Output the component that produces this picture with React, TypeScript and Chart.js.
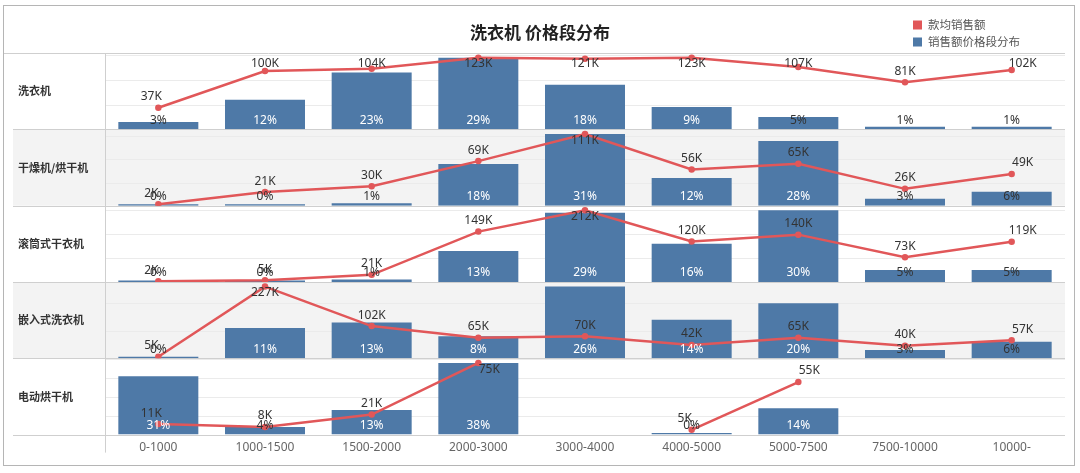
import React, { useEffect, useRef } from 'react';
import { Chart, registerables } from 'chart.js';

Chart.register(...registerables);

const titleText = '洗衣机 价格段分布';
const legendLabels = ['款均销售额', '销售额价格段分布'];
const categories = ['0-1000', '1000-1500', '1500-2000', '2000-3000', '3000-4000', '4000-5000', '5000-7500', '7500-10000', '10000-'];
const rowLabels = ['洗衣机', '干燥机/烘干机', '滚筒式干衣机', '嵌入式洗衣机', '电动烘干机'];

// 款均销售额 (K)
const washerAvg = [37, 100, 104, 123, 121, 123, 107, 81, 102];
const dryerAvg = [2, 21, 30, 69, 111, 56, 65, 26, 49];
const drumDryerAvg = [2, 5, 21, 149, 212, 120, 140, 73, 119];
const builtInAvg = [5, 227, 102, 65, 70, 42, 65, 40, 57];
const electricDryerAvg = [11, 8, 21, 75, null, 5, 55, null, null];

// 销售额价格段分布 (%)
const washerShare = [3, 12, 23, 29, 18, 9, 5, 1, 1];
const dryerShare = [0, 0, 1, 18, 31, 12, 28, 3, 6];
const drumDryerShare = [0, 0, 1, 13, 29, 16, 30, 5, 5];
const builtInShare = [0, 11, 13, 8, 26, 14, 20, 3, 6];
const electricDryerShare = [31, 4, 13, 38, null, 0, 14, null, null];

const avgRows = [washerAvg, dryerAvg, drumDryerAvg, builtInAvg, electricDryerAvg];
const shareRows = [washerShare, dryerShare, drumDryerShare, builtInShare, electricDryerShare];

const RED = '#e15759';
const BLUE = '#4e79a7';
const SANS = '"Noto Sans", "Noto Sans CJK SC", sans-serif';
const CJK = '"Noto Sans CJK SC", sans-serif';

const maxOf = (arr: (number | null)[]) => Math.max(...(arr.filter((v) => v !== null) as number[]));

const decorPlugin = {
  id: 'decor',
  beforeDatasetsDraw(chart: any) {
    const ctx = chart.ctx;
    const area = chart.chartArea;
    ctx.save();
    rowLabels.forEach((_, i) => {
      const s = chart.scales['b' + i];
      if (i % 2 === 1) {
        ctx.fillStyle = '#f3f3f3';
        ctx.fillRect(13, s.top, area.right - 13, s.bottom - s.top);
      }
      ctx.strokeStyle = '#ebebeb';
      ctx.lineWidth = 1;
      for (let v = 10; v < s.max; v += 10) {
        const y = Math.round(s.getPixelForValue(v)) + 0.5;
        ctx.beginPath();
        ctx.moveTo(area.left, y);
        ctx.lineTo(area.right, y);
        ctx.stroke();
      }
    });
    ctx.strokeStyle = '#cfcfcf';
    ctx.lineWidth = 1;
    const top = Math.round(area.top) + 0.5;
    ctx.beginPath();
    ctx.moveTo(3, top);
    ctx.lineTo(area.right, top);
    ctx.stroke();
    rowLabels.forEach((_, i) => {
      const s = chart.scales['b' + i];
      const y = Math.round(s.bottom) + 0.5;
      ctx.beginPath();
      ctx.moveTo(13, y);
      ctx.lineTo(area.right, y);
      ctx.stroke();
    });
    const vx = Math.round(area.left) + 0.5;
    ctx.beginPath();
    ctx.moveTo(vx, area.top);
    ctx.lineTo(vx, area.bottom + 18);
    ctx.stroke();
    ctx.restore();
  },
  afterDatasetsDraw(chart: any) {
    const ctx = chart.ctx;
    ctx.save();
    ctx.textAlign = 'center';
    ctx.textBaseline = 'middle';
    ctx.font = '12px ' + SANS;
    rowLabels.forEach((_, i) => {
      const bs = chart.scales['b' + i];
      const barMeta = chart.getDatasetMeta(rowLabels.length + i);
      const shares = shareRows[i];
      barMeta.data.forEach((el: any, j: number) => {
        const v = shares[j];
        if (v === null) return;
        const h = Math.abs(el.base - el.y);
        ctx.fillStyle = h > 20 ? '#ffffff' : '#333333';
        ctx.fillText(v + '%', el.x, bs.bottom - 9);
      });
      const lineMeta = chart.getDatasetMeta(i);
      const avgs = avgRows[i];
      lineMeta.data.forEach((el: any, j: number) => {
        const v = avgs[j];
        if (v === null) return;
        const prev = j > 0 ? avgs[j - 1] : null;
        const next = j < avgs.length - 1 ? avgs[j + 1] : null;
        let dx = 0;
        if (next === null || next === undefined) dx = 11;
        else if (prev === null || prev === undefined) dx = -7;
        const y = Math.max(el.y - 11, bs.top + 11);
        ctx.fillStyle = '#333333';
        ctx.fillText(v + 'K', el.x + dx, y);
      });
    });
    ctx.restore();
  },
  afterDraw(chart: any) {
    const ctx = chart.ctx;
    ctx.save();
    // title
    ctx.fillStyle = '#222';
    ctx.font = 'bold 17px ' + CJK;
    ctx.textAlign = 'center';
    ctx.textBaseline = 'middle';
    ctx.fillText(titleText, 540, 33);
    // legend
    const colors = [RED, BLUE];
    ctx.font = '11.5px ' + CJK;
    ctx.textAlign = 'left';
    legendLabels.forEach((t, k) => {
      const cy = 25 + k * 17;
      ctx.fillStyle = colors[k];
      ctx.fillRect(913, cy - 4.5, 9, 9);
      ctx.fillStyle = '#555';
      ctx.fillText(t, 928, cy);
    });
    // row headers
    ctx.font = 'bold 11px ' + CJK;
    ctx.fillStyle = '#333';
    rowLabels.forEach((t, i) => {
      const s = chart.scales['b' + i];
      ctx.fillText(t, 18, (s.top + s.bottom) / 2);
    });
    // frame
    ctx.strokeStyle = '#b5b5b5';
    ctx.lineWidth = 1;
    ctx.strokeRect(3.5, 5.5, 1071, 460);
    ctx.restore();
  },
};

export default function App() {
  const ref = useRef<HTMLCanvasElement | null>(null);
  useEffect(() => {
    if (!ref.current) return;
    const scales: any = {
      x: {
        type: 'category',
        offset: true,
        grid: { display: false, drawTicks: false },
        border: { display: false },
        ticks: { color: '#666', font: { family: SANS, size: 12 }, padding: 6, maxRotation: 0, autoSkip: false },
      },
    };
    rowLabels.forEach((_, i) => {
      scales['b' + i] = {
        type: 'linear', position: 'left', stack: 'rows', stackWeight: 1, weight: rowLabels.length - i,
        display: false, min: 0, max: maxOf(shareRows[i]) * 1.065,
      };
      scales['l' + i] = {
        type: 'linear', position: 'right', stack: 'rows', stackWeight: 1, weight: i,
        display: false, min: 0, max: maxOf(avgRows[i]) * 1.065,
      };
    });
    const lineSets = avgRows.map((d, i) => ({
      type: 'line' as const,
      label: legendLabels[0],
      data: d,
      xAxisID: 'x',
      yAxisID: 'l' + i,
      borderColor: RED,
      backgroundColor: RED,
      borderWidth: 2.5,
      pointRadius: 2,
      pointHoverRadius: 2,
      tension: 0,
      order: 0,
      spanGaps: false,
    }));
    const barSets = shareRows.map((d, i) => ({
      type: 'bar' as const,
      label: legendLabels[1],
      data: d,
      xAxisID: 'x',
      yAxisID: 'b' + i,
      backgroundColor: BLUE,
      grouped: false,
      categoryPercentage: 1,
      barPercentage: 0.75,
      minBarLength: 1.5,
      order: 1,
    }));
    const chart = new Chart(ref.current, {
      type: 'bar',
      data: { labels: categories, datasets: [...lineSets, ...barSets] as any },
      options: {
        responsive: false,
        devicePixelRatio: 1,
        animation: false,
        layout: { padding: { left: 105, right: 15, top: 53, bottom: 12 } },
        plugins: { legend: { display: false }, title: { display: false }, tooltip: { enabled: false } },
        scales,
      },
      plugins: [decorPlugin],
    });
    return () => chart.destroy();
  }, []);
  return (
    <div style={{ position: 'fixed', left: 0, top: 0, width: 1080, height: 473, background: '#fff' }}>
      <canvas ref={ref} width={1080} height={473} style={{ display: 'block' }} />
    </div>
  );
}
